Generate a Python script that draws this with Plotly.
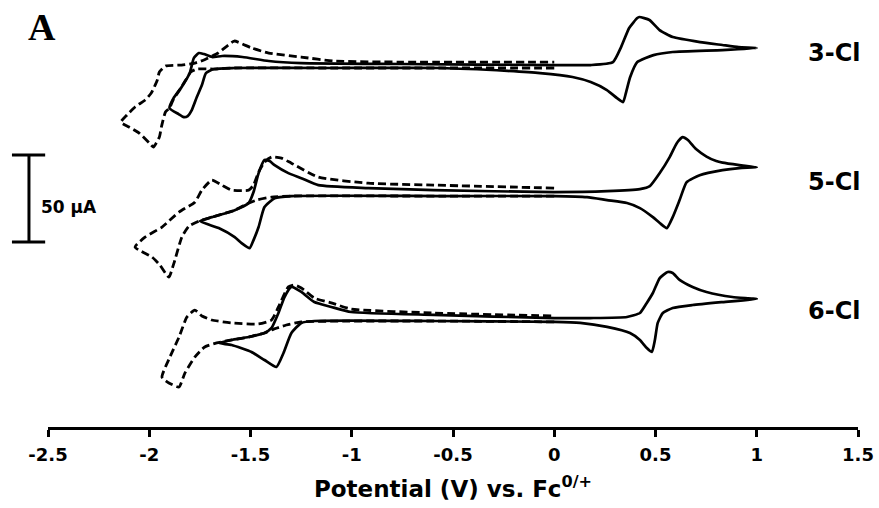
import plotly.graph_objects as go

# ---------------- data (potential in V vs Fc0/+, current in µA relative to each baseline) -------------
V_3CL_SOLID = [-1.90, -1.88, -1.84, -1.80, -1.78, -1.755, -1.73, -1.69, -1.64, -1.54, -1.41, -1.25, -0.76,
               0.0, 0.18, 0.29, 0.33, 0.37, 0.41, 0.42, 0.47, 0.52, 0.585, 0.72, 0.83, 0.91, 1.0,
               0.83, 0.585, 0.49, 0.41, 0.375, 0.355, 0.34, 0.31, 0.26, 0.18, 0.09, -0.07, -0.23, -0.56,
               -1.09, -1.58, -1.68, -1.72, -1.74, -1.765, -1.79, -1.81, -1.83, -1.855, -1.90]
I_3CL_SOLID = [-24.7, -19.0, -12.6, -4.6, 4.0, 6.9, 6.3, 4.6, 5.2, 4.6, 2.3, 1.1, 0.6,
               0.0, 0.0, 1.7, 10.3, 21.3, 27.0, 27.6, 25.9, 20.1, 16.1, 13.2, 11.5, 10.3, 9.8,
               8.6, 7.5, 5.7, 1.7, -6.9, -15.5, -21.3, -19.0, -14.4, -9.8, -6.9, -4.6, -3.4, -1.7,
               -1.7, -1.7, -2.3, -4.6, -11.5, -18.4, -25.9, -29.3, -29.9, -28.2, -24.7]

V_3CL_DASH = [0.0, -0.56, -1.09, -1.58, -1.68, -1.765, -1.795, -1.82, -1.85, -1.88, -1.90, -1.92, -1.94,
              -1.95, -1.98, -2.00, -2.05, -2.10, -2.14, -2.11, -2.07, -2.02, -1.99, -1.96, -1.95, -1.92,
              -1.84, -1.775, -1.73, -1.66, -1.61, -1.58, -1.495, -1.41, -1.25, -1.09, -0.76, 0.0]
I_3CL_DASH = [-1.7, -1.7, -1.7, -1.7, -2.3, -2.3, -4.0, -8.6, -14.4, -19.5, -24.7, -27.0, -35.6,
              -41.4, -47.1, -44.8, -39.1, -35.6, -32.8, -28.7, -24.1, -20.1, -16.1, -8.6, -4.0, -0.6,
              0.0, 1.1, 2.9, 6.9, 11.5, 13.8, 9.8, 6.9, 4.6, 2.3, 1.7, 1.7]

V_5CL_SOLID = [-1.75, -1.691, -1.578, -1.509, -1.485, -1.46, -1.431, -1.406, -1.381, -1.313, -1.249, -1.165,
               -0.919, -0.595, 0.0, 0.261, 0.423, 0.472, 0.521, 0.57, 0.605, 0.634, 0.66, 0.70, 0.752, 0.80,
               0.831, 0.914, 1.0, 0.914, 0.831, 0.718, 0.654, 0.619, 0.585, 0.556, 0.521, 0.487, 0.423, 0.359,
               0.261, 0.162, 0.0, -0.56, -1.298, -1.381, -1.431, -1.46, -1.485, -1.504, -1.544, -1.578,
               -1.657, -1.75]
I_5CL_SOLID = [-16.1, -13.8, -9.8, -5.7, 0.6, 11.5, 19.0, 18.4, 16.1, 11.5, 8.6, 4.6,
               2.9, 1.7, 0.6, 1.1, 2.3, 4.0, 11.5, 20.7, 28.7, 32.2, 30.5, 25.3, 21.0, 18.4,
               17.5, 16.1, 14.9, 14.4, 13.2, 10.3, 6.3, -4.0, -13.8, -20.1, -17.2, -13.8, -8.6, -5.7,
               -4.0, -2.3, -1.7, -1.7, -1.7, -2.9, -8.0, -19.5, -27.0, -31.6, -28.7, -25.3,
               -20.1, -16.1]

V_5CL_DASH = [0.0, -0.56, -1.30, -1.396, -1.47, -1.52, -1.578, -1.691, -1.755, -1.804, -1.839, -1.878,
              -1.903, -1.947, -1.986, -2.07, -2.021, -1.937, -1.853, -1.775, -1.74, -1.691, -1.642,
              -1.593, -1.509, -1.485, -1.46, -1.431, -1.396, -1.347, -1.298, -1.165, -0.919, -0.595, 0.0]
I_5CL_DASH = [-1.7, -1.7, -1.7, -2.3, -4.0, -6.3, -9.8, -13.8, -16.1, -19.0, -25.3, -40.2,
              -48.3, -41.4, -36.8, -31.0, -25.3, -19.5, -10.9, -5.2, 1.7, 7.5, 4.6,
              1.7, 1.7, 4.6, 12.1, 17.8, 20.7, 20.1, 17.2, 9.2, 5.7, 4.6, 2.9]

V_6CL_SOLID = [-1.657, -1.593, -1.509, -1.431, -1.396, -1.362, -1.332, -1.298, -1.249, -1.185, -1.101,
               -1.003, -0.595, 0.0, 0.177, 0.359, 0.423, 0.457, 0.487, 0.521, 0.56, 0.585, 0.619, 0.683,
               0.752, 0.88, 1.0, 0.831, 0.683, 0.585, 0.536, 0.511, 0.497, 0.482, 0.457, 0.423, 0.374,
               0.261, 0.128, 0.0, -0.595, -1.185, -1.249, -1.298, -1.337, -1.372, -1.431, -1.495,
               -1.593, -1.657]
I_6CL_SOLID = [-13.2, -11.5, -9.8, -7.5, -4.6, 4.0, 13.2, 19.0, 16.1, 10.3, 7.5,
               4.6, 2.9, 1.1, 1.1, 1.7, 4.0, 9.8, 15.5, 24.1, 27.6, 27.0, 23.0, 19.0,
               16.1, 13.2, 12.1, 10.3, 8.6, 6.9, 4.0, -1.7, -11.5, -18.4, -16.1, -11.5, -7.5,
               -4.0, -1.7, -1.1, -0.6, -0.6, -1.7, -7.5, -19.0, -27.0, -23.0, -18.4,
               -14.4, -13.2]

V_6CL_DASH = [0.0, -0.595, -1.249, -1.323, -1.396, -1.431, -1.509, -1.593, -1.667, -1.726, -1.775,
              -1.824, -1.853, -1.903, -1.937, -1.898, -1.853, -1.814, -1.775, -1.74, -1.691, -1.593,
              -1.46, -1.396, -1.362, -1.313, -1.283, -1.249, -1.185, -1.101, -1.003, -0.595, 0.0]
I_6CL_DASH = [-1.1, -0.6, -1.1, -2.9, -5.7, -7.5, -9.8, -11.5, -13.2, -15.5, -21.3,
              -30.5, -38.5, -36.2, -32.8, -21.3, -9.8, 1.7, 5.7, 2.3, 0.0, -1.7,
              -2.3, 0.0, 7.5, 19.0, 20.1, 18.4, 12.6, 9.8, 6.3, 4.0, 2.3]

COMPOUNDS = ["3-Cl", "5-Cl", "6-Cl"]
CURVES = {
    "3-Cl": (V_3CL_SOLID, I_3CL_SOLID, V_3CL_DASH, I_3CL_DASH),
    "5-Cl": (V_5CL_SOLID, I_5CL_SOLID, V_5CL_DASH, I_5CL_DASH),
    "6-Cl": (V_6CL_SOLID, I_6CL_SOLID, V_6CL_DASH, I_6CL_DASH),
}
OFFSETS_UA = {"3-Cl": 208.0, "5-Cl": 134.4, "6-Cl": 61.5}   # vertical stacking of the voltammograms
LABEL_Y_UA = {"3-Cl": 214.9, "5-Cl": 140.8, "6-Cl": 66.6}

X_TICKS = [-2.5, -2, -1.5, -1, -0.5, 0, 0.5, 1, 1.5]
X_TICK_TEXT = ["-2.5", "-2", "-1.5", "-1", "-0.5", "0", "0.5", "1", "1.5"]
SCALE_BAR_UA = 50
SCALE_BAR_BASE_UA = 106.3
Y_RANGE = [0, 242.5]

# ---------------- figure ----------------
FONT = "DejaVu Sans"
fig = go.Figure()
for name in COMPOUNDS:
    vs, is_, vd, id_ = CURVES[name]
    off = OFFSETS_UA[name]
    fig.add_trace(go.Scatter(x=vd, y=[v + off for v in id_], mode="lines",
                             line=dict(color="black", width=2.8, dash="8px,4px", shape="spline", smoothing=0.5),
                             showlegend=False, hoverinfo="skip"))
    fig.add_trace(go.Scatter(x=vs, y=[v + off for v in is_], mode="lines",
                             line=dict(color="black", width=2.7, shape="spline", smoothing=0.5),
                             showlegend=False, hoverinfo="skip"))
    fig.add_annotation(x=0.9716, xref="paper", y=LABEL_Y_UA[name], yref="y", text=name,
                       xanchor="center", yanchor="middle", showarrow=False,
                       font=dict(family=FONT, size=24, color="black", weight="bold"))

# scale bar (paper coordinates derived from the µA values)
def ypap(v):
    return (v - Y_RANGE[0]) / (Y_RANGE[1] - Y_RANGE[0])

y0 = ypap(SCALE_BAR_BASE_UA)
y1 = ypap(SCALE_BAR_BASE_UA + SCALE_BAR_UA)
bar = dict(type="line", xref="paper", yref="paper", line=dict(color="black", width=3))
fig.add_shape(**bar, x0=-0.0235, x1=-0.0235, y0=y0, y1=y1)
fig.add_shape(**bar, x0=-0.0445, x1=-0.0035, y0=y0, y1=y0)
fig.add_shape(**bar, x0=-0.0445, x1=-0.0035, y0=y1, y1=y1)
fig.add_annotation(x=0.026, xref="paper", y=SCALE_BAR_BASE_UA + SCALE_BAR_UA * 0.4, yref="y",
                   text=f"{SCALE_BAR_UA} µA", showarrow=False, xanchor="center", yanchor="middle",
                   font=dict(family=FONT, size=17, color="black", weight="bold"))

fig.add_annotation(x=-0.0074, xref="paper", y=0.948, yref="paper", text="A", showarrow=False,
                   xanchor="center", yanchor="middle",
                   font=dict(family="Liberation Serif", size=38, color="black", weight="bold"))

fig.update_layout(
    width=879, height=508,
    margin=dict(l=48, r=21, t=5, b=81),
    paper_bgcolor="white", plot_bgcolor="white",
    xaxis=dict(range=[-2.5, 1.5], tickvals=X_TICKS, ticktext=X_TICK_TEXT,
               showline=True, linecolor="black", linewidth=2.5,
               ticks="outside", ticklen=7, tickwidth=2.5, tickcolor="black",
               ticklabelstandoff=3,
               showgrid=False, zeroline=False,
               tickfont=dict(family=FONT, size=18, color="black", weight="bold"),
               title=dict(text="Potential (V) vs. Fc<sup>0/+</sup>", standoff=17,
                          font=dict(family=FONT, size=23, color="black", weight="bold"))),
    yaxis=dict(range=Y_RANGE, visible=False),
)
fig.write_html("out.html", config={"displayModeBar": False},
               post_script="document.body.style.margin='0';document.body.style.padding='0';")
